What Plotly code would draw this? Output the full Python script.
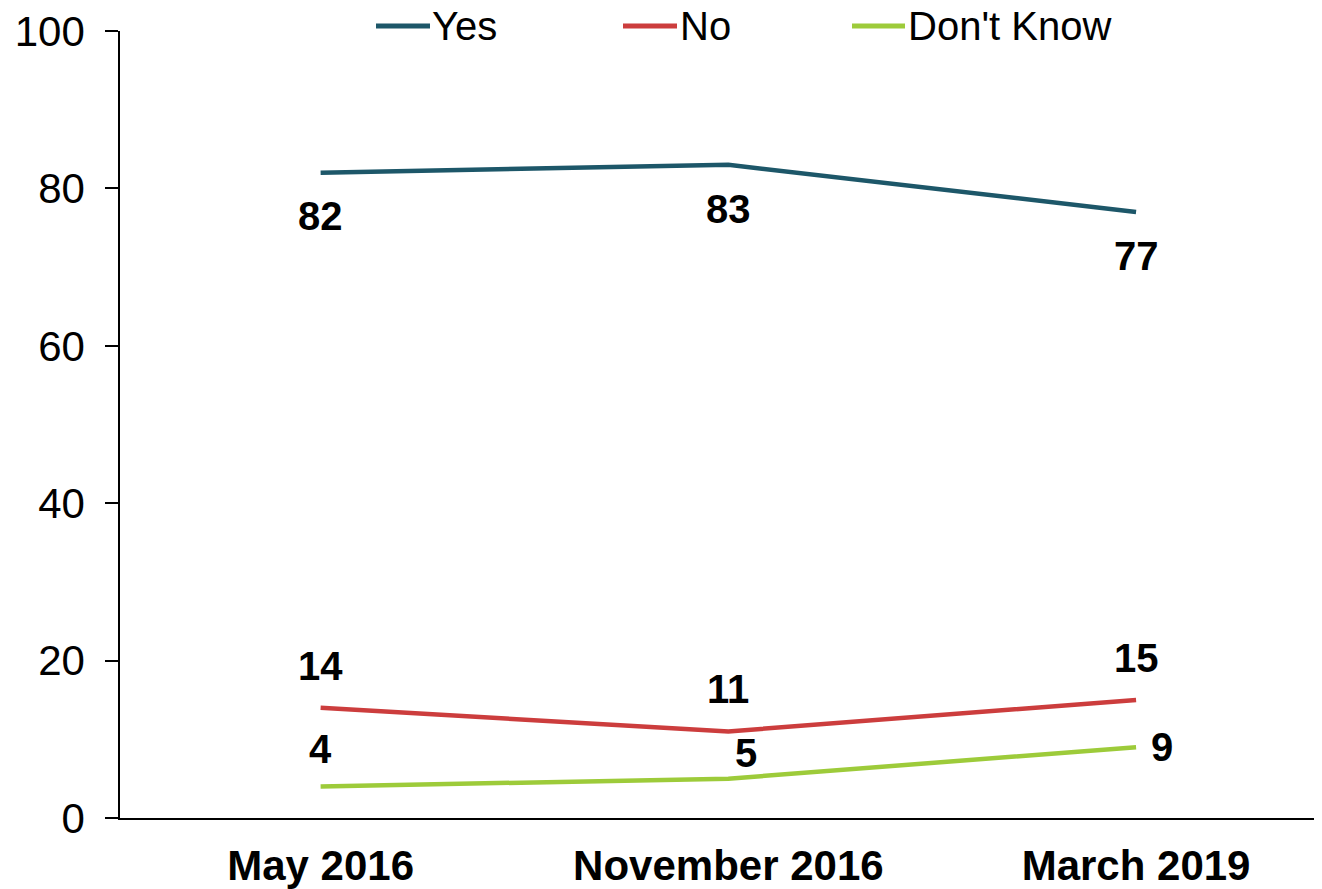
import plotly.graph_objects as go

categories = ["May 2016", "November 2016", "March 2019"]
yes_vals = [82, 83, 77]
no_vals = [14, 11, 15]
dk_vals = [4, 5, 9]
series_names = ["Yes", "No", "Don't Know"]
y_ticks = [0, 20, 40, 60, 80, 100]

colors = ["#1D5769", "#CC3D3D", "#9DCB3A"]
OFF = 8  # page body margin
W, H = 1322 - OFF, 889 - OFF
ML, MR, MT, MB = 120 - OFF, 0, 29 - OFF, 70
PW = W - ML - MR
PH = H - MT - MB
FONT = "Liberation Sans, Arial, sans-serif"

fig = go.Figure()
for name, vals, col in zip(series_names, [yes_vals, no_vals, dk_vals], colors):
    fig.add_trace(go.Scatter(x=categories, y=vals, mode="lines", name=name,
                             line=dict(color=col, width=4.5), showlegend=False,
                             hoverinfo="skip"))

# data labels
label_offsets = {
    "Yes": [(0, -43), (0, -44), (0, -44)],
    "No": [(0, 42), (0, 42), (0, 42)],
    "Don't Know": [(0, 38), (18, 26), (26, 0)],
}
annotations = []
for name, vals in zip(series_names, [yes_vals, no_vals, dk_vals]):
    for i, (c, v) in enumerate(zip(categories, vals)):
        dx, dy = label_offsets[name][i]
        annotations.append(dict(x=c, y=v, text=str(v), showarrow=False,
                                xshift=dx, yshift=dy,
                                font=dict(family=FONT, size=40, color="black", weight="bold")))

# manual legend (screen pixel positions)
legend_items = [(376, 430, 430), (623, 677, 678), (852, 905, 906)]
legend_y_px = 24
def px_to_paper_x(px):
    return (px - OFF - ML) / PW
def px_to_paper_y(py):
    return (H - MB - (py - OFF)) / PH
shapes = []
for (x0, x1, tx), name, col in zip(legend_items, series_names, colors):
    shapes.append(dict(type="line", xref="paper", yref="paper",
                       x0=px_to_paper_x(x0), x1=px_to_paper_x(x1),
                       y0=px_to_paper_y(legend_y_px), y1=px_to_paper_y(legend_y_px),
                       line=dict(color=col, width=5)))
    annotations.append(dict(xref="paper", yref="paper", x=px_to_paper_x(tx),
                            y=px_to_paper_y(legend_y_px), xanchor="left", yanchor="middle",
                            text=name, showarrow=False,
                            font=dict(family=FONT, size=40, color="black")))

fig.update_layout(
    width=W, height=H,
    margin=dict(l=ML, r=MR, t=MT, b=MB, pad=0),
    paper_bgcolor="white", plot_bgcolor="white",
    showlegend=False,
    shapes=shapes,
    annotations=annotations,
    xaxis=dict(type="category", range=[-0.492, 2.456], showgrid=False, zeroline=False,
               showline=True, linecolor="black", linewidth=1.5, ticks="",
               tickfont=dict(family=FONT, size=42, color="black", weight="bold"),
               ticklabelstandoff=10),
    yaxis=dict(range=[0, 100], tickvals=y_ticks, showgrid=False, zeroline=False,
               showline=True, linecolor="black", linewidth=1.5, ticks="outside",
               ticklen=13, tickwidth=1.5, tickcolor="black",
               tickfont=dict(family=FONT, size=42, color="black"),
               ticklabelstandoff=12, ticklabeloverflow="allow"),
)

fig.write_html("out.html")
